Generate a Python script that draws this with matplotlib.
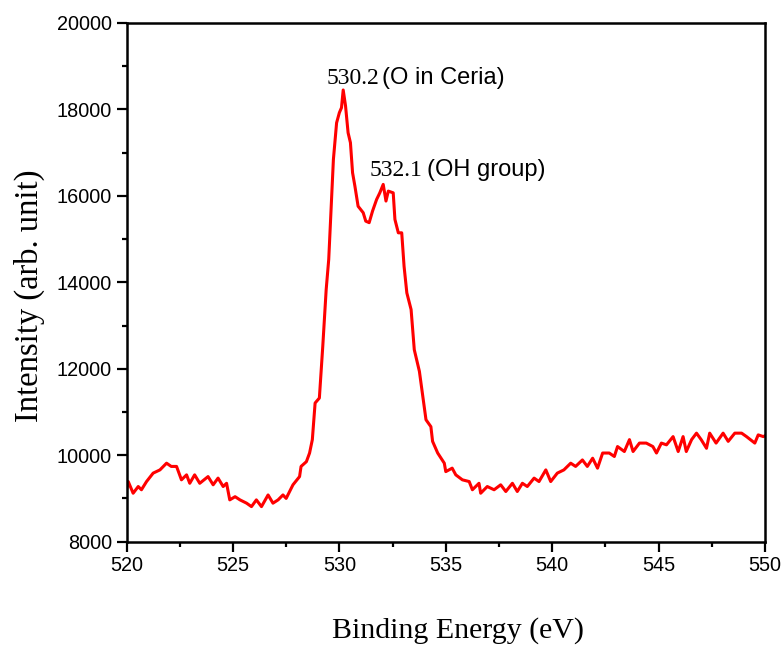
import matplotlib.pyplot as plt
from matplotlib.ticker import MultipleLocator

# O 1s spectrum
energy = [520.0, 520.08, 520.31, 520.55, 520.7, 520.94, 521.25, 521.57, 521.88, 522.1,
          522.35, 522.58, 522.82, 522.97, 523.2, 523.44, 523.83, 524.07, 524.3, 524.54,
          524.7, 524.85, 525.1, 525.33, 525.64, 525.87, 526.1, 526.34, 526.65, 526.88,
          527.12, 527.35, 527.5, 527.82, 528.13, 528.2, 528.45, 528.6, 528.73, 528.86,
          529.06, 529.22, 529.38, 529.5, 529.72, 529.87, 530.0, 530.1, 530.18, 530.29,
          530.41, 530.52, 530.62, 530.73, 530.88, 531.12, 531.24, 531.4, 531.56, 531.75,
          531.9, 532.06, 532.19, 532.3, 532.53, 532.61, 532.77, 532.93, 533.04, 533.17,
          533.37, 533.52, 533.76, 533.92, 534.07, 534.3, 534.38, 534.62, 534.93, 535.0,
          535.3, 535.47, 535.78, 536.1, 536.25, 536.56, 536.64, 536.95, 537.27, 537.58,
          537.82, 538.13, 538.36, 538.6, 538.83, 539.15, 539.38, 539.7, 539.93, 540.24,
          540.55, 540.87, 541.1, 541.42, 541.65, 541.9, 542.13, 542.37, 542.68, 542.92,
          543.07, 543.39, 543.63, 543.8, 544.1, 544.42, 544.73, 544.9, 545.13, 545.37,
          545.68, 545.92, 546.15, 546.3, 546.55, 546.78, 547.0, 547.25, 547.4, 547.7,
          548.03, 548.27, 548.58, 548.9, 549.13, 549.52, 549.68, 549.92, 550.0]
intensity = [9200, 9390, 9120, 9275, 9200, 9390, 9585, 9660, 9815, 9740,
             9740, 9430, 9545, 9350, 9545, 9350, 9505, 9315, 9470, 9275,
             9350, 8966, 9040, 8966, 8890, 8810, 8966, 8810, 9080, 8890,
             8966, 9080, 9000, 9315, 9505, 9740, 9850, 10050, 10360, 11207,
             11322, 12518, 13830, 14530, 16845, 17690, 17925, 18040, 18450, 18080,
             17460, 17230, 16535, 16225, 15760, 15610, 15415, 15380, 15650, 15917,
             16070, 16265, 15880, 16110, 16070, 15455, 15145, 15145, 14370, 13755,
             13370, 12440, 11940, 11360, 10820, 10660, 10320, 10050, 9815, 9620,
             9700, 9545, 9430, 9390, 9200, 9350, 9120, 9275, 9200, 9315,
             9160, 9350, 9160, 9350, 9275, 9470, 9390, 9660, 9390, 9585,
             9660, 9815, 9740, 9890, 9740, 9930, 9700, 10050, 10050, 9970,
             10200, 10085, 10360, 10085, 10280, 10280, 10200, 10050, 10280, 10240,
             10430, 10085, 10430, 10085, 10360, 10510, 10360, 10160, 10510, 10280,
             10510, 10320, 10510, 10510, 10430, 10280, 10470, 10430, 10450]

serif = 'Liberation Serif'
sans = 'Liberation Sans'

fig = plt.figure(figsize=(7.84, 6.51), dpi=100)
ax = fig.add_axes([0.1614, 0.168, 0.8144, 0.7967])

ax.plot(energy, intensity, color='#ff0000', linewidth=2.2)

ax.set_xlim(520, 550)
ax.set_ylim(8000, 20000)
ax.xaxis.set_major_locator(MultipleLocator(5))
ax.xaxis.set_minor_locator(MultipleLocator(2.5))
ax.yaxis.set_major_locator(MultipleLocator(2000))
ax.yaxis.set_minor_locator(MultipleLocator(1000))

ax.tick_params(which='both', direction='out', width=1.6, top=False, right=False)
ax.tick_params(which='major', length=7, labelsize=14.3)
ax.tick_params(which='minor', length=3.6)
for lab in ax.get_xticklabels() + ax.get_yticklabels():
    lab.set_fontfamily(sans)
for sp in ax.spines.values():
    sp.set_linewidth(1.8)

ax.set_xlabel('Binding Energy (eV)', fontfamily=serif, fontsize=21.5)
ax.set_ylabel('Intensity (arb. unit)', fontfamily=serif, fontsize=23.5)
ax.xaxis.set_label_coords(0.519, -0.145)
ax.yaxis.set_label_coords(-0.128, 0.474)

# peak annotations
ax.text(529.42, 18582, '530.2', fontfamily=serif, fontsize=17)
ax.text(532.0, 18582, '(O in Ceria)', fontfamily=sans, fontsize=17)
ax.text(531.4, 16450, '532.1', fontfamily=serif, fontsize=17)
ax.text(534.12, 16450, '(OH group)', fontfamily=sans, fontsize=17)

fig.savefig('out.png', dpi=100)
